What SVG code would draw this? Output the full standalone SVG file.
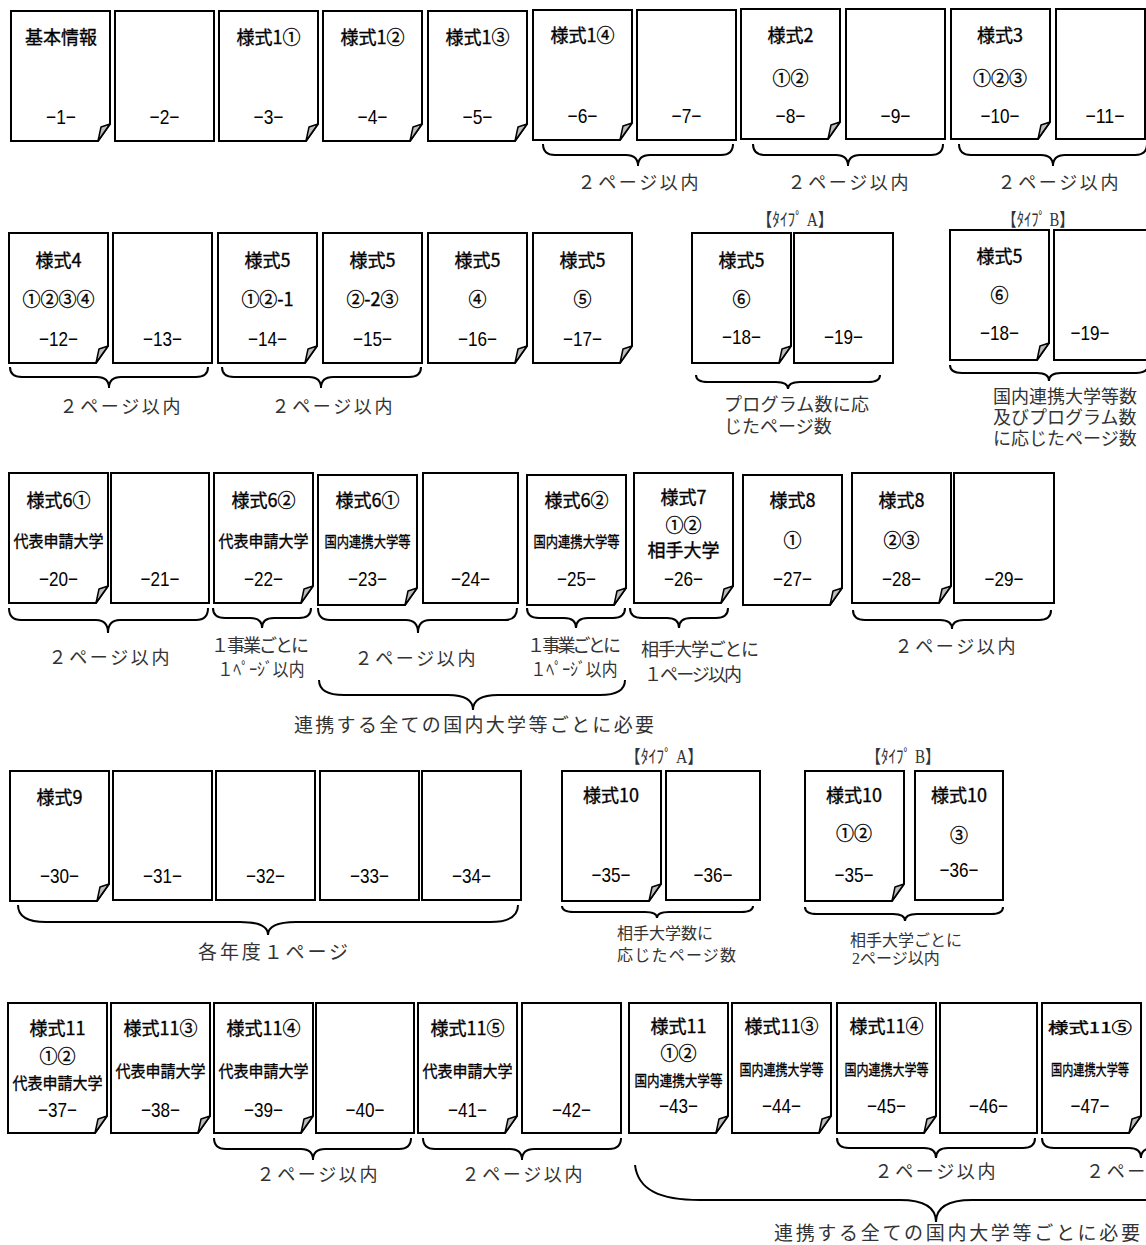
<svg xmlns="http://www.w3.org/2000/svg" width="1146" height="1245" viewBox="0 0 1146 1245">
<style>
.pg{fill:#fff;stroke:#000;stroke-width:2}
.fd{fill:#bdbdbd;stroke:#000;stroke-width:1.5;stroke-linejoin:round}
.lb{font-family:"Noto Sans CJK JP",sans-serif;font-size:18px;text-anchor:middle;fill:#000;stroke:#000;stroke-width:0.35px}
.sm{font-size:16px}
.xs{font-size:15px}
.nm{font-family:"Liberation Sans",Arial,sans-serif;font-size:21px;text-anchor:middle;fill:#000}
.br{fill:none;stroke:#000;stroke-width:2}
.an{font-family:"Liberation Serif","Noto Sans CJK JP",serif;font-size:18px;fill:#333}
.an.sm{font-size:16px}
.an.xs{font-size:15px}
.an.lg{font-size:19px}
.mid{text-anchor:middle}
</style>
<defs>
<g id="pf"><path class="pg" d="M0,0H99V113L87,130H0Z"/><path class="fd" d="M99,113L90,116L87,130Z"/></g>
</defs>
<rect width="1146" height="1245" fill="#fff"/>

<!-- Row 1 -->
<g id="p1"><use href="#pf" x="11" y="11"/><text class="lb" x="61" y="44">基本情報</text><text class="nm" x="61" y="124" textLength="30" lengthAdjust="spacingAndGlyphs">−1−</text></g>
<g id="p2"><rect class="pg" x="115" y="11" width="99" height="130"/><text class="nm" x="164.5" y="124" textLength="30" lengthAdjust="spacingAndGlyphs">−2−</text></g>
<g id="p3"><use href="#pf" x="219" y="11"/><text class="lb" x="268.5" y="44">様式1①</text><text class="nm" x="268.5" y="124" textLength="30" lengthAdjust="spacingAndGlyphs">−3−</text></g>
<g id="p4"><use href="#pf" x="323" y="11"/><text class="lb" x="372.5" y="44">様式1②</text><text class="nm" x="372.5" y="124" textLength="30" lengthAdjust="spacingAndGlyphs">−4−</text></g>
<g id="p5"><use href="#pf" x="428" y="11"/><text class="lb" x="477.5" y="44">様式1③</text><text class="nm" x="477.5" y="124" textLength="30" lengthAdjust="spacingAndGlyphs">−5−</text></g>
<g id="p6"><use href="#pf" x="533" y="10"/><text class="lb" x="582.5" y="42">様式1④</text><text class="nm" x="582.5" y="123" textLength="30" lengthAdjust="spacingAndGlyphs">−6−</text></g>
<g id="p7"><rect class="pg" x="637" y="10" width="99" height="130"/><text class="nm" x="686.5" y="123" textLength="30" lengthAdjust="spacingAndGlyphs">−7−</text></g>
<g id="p8"><use href="#pf" x="741" y="9"/><text class="lb" x="790.5" y="42">様式2</text><text class="lb" x="790.5" y="85">①②</text><text class="nm" x="790.5" y="123" textLength="30" lengthAdjust="spacingAndGlyphs">−8−</text></g>
<g id="p9"><rect class="pg" x="846" y="9" width="99" height="130"/><text class="nm" x="895.5" y="123" textLength="30" lengthAdjust="spacingAndGlyphs">−9−</text></g>
<g id="p10"><use href="#pf" x="951" y="9"/><text class="lb" x="1000" y="42">様式3</text><text class="lb" x="1000" y="85">①②③</text><text class="nm" x="1000" y="123" textLength="39" lengthAdjust="spacingAndGlyphs">−10−</text></g>
<g id="p11"><rect class="pg" x="1056" y="9" width="89" height="130"/><text class="nm" x="1105" y="123" textLength="39" lengthAdjust="spacingAndGlyphs">−11−</text></g>

<!-- Row 2 -->
<g id="p12"><use href="#pf" x="9" y="233"/><text class="lb" x="58.5" y="267">様式4</text><text class="lb" x="58.5" y="306">①②③④</text><text class="nm" x="58.5" y="346" textLength="39" lengthAdjust="spacingAndGlyphs">−12−</text></g>
<g id="p13"><rect class="pg" x="113" y="233" width="99" height="130"/><text class="nm" x="162.5" y="346" textLength="39" lengthAdjust="spacingAndGlyphs">−13−</text></g>
<g id="p14"><use href="#pf" x="218" y="233"/><text class="lb" x="267.5" y="267">様式5</text><text class="lb" x="267.5" y="306">①②-1</text><text class="nm" x="267.5" y="346" textLength="39" lengthAdjust="spacingAndGlyphs">−14−</text></g>
<g id="p15"><rect class="pg" x="323" y="233" width="99" height="130"/><text class="lb" x="372.5" y="267">様式5</text><text class="lb" x="372.5" y="306">②-2③</text><text class="nm" x="372.5" y="346" textLength="39" lengthAdjust="spacingAndGlyphs">−15−</text></g>
<g id="p16"><use href="#pf" x="428" y="233"/><text class="lb" x="477.5" y="267">様式5</text><text class="lb" x="477.5" y="306">④</text><text class="nm" x="477.5" y="346" textLength="39" lengthAdjust="spacingAndGlyphs">−16−</text></g>
<g id="p17"><use href="#pf" x="533" y="233"/><text class="lb" x="582.5" y="267">様式5</text><text class="lb" x="582.5" y="306">⑤</text><text class="nm" x="582.5" y="346" textLength="39" lengthAdjust="spacingAndGlyphs">−17−</text></g>
<g id="p18a"><use href="#pf" x="692" y="233"/><text class="lb" x="741.5" y="267">様式5</text><text class="lb" x="741.5" y="306">⑥</text><text class="nm" x="741.5" y="344" textLength="39" lengthAdjust="spacingAndGlyphs">−18−</text></g>
<g id="p19a"><rect class="pg" x="794" y="233" width="99" height="130"/><text class="nm" x="843.5" y="344" textLength="39" lengthAdjust="spacingAndGlyphs">−19−</text></g>
<g id="p18b"><use href="#pf" x="950" y="230"/><text class="lb" x="999.5" y="263">様式5</text><text class="lb" x="999.5" y="302">⑥</text><text class="nm" x="999.5" y="340" textLength="39" lengthAdjust="spacingAndGlyphs">−18−</text></g>
<g id="p19b"><rect class="pg" x="1054" y="230" width="99" height="130"/><text class="nm" x="1090" y="340" textLength="39" lengthAdjust="spacingAndGlyphs">−19−</text></g>

<!-- Row 3 -->
<g id="p20"><use href="#pf" x="9" y="473"/><text class="lb" x="58.5" y="507">様式6①</text><text class="lb sm" x="58.5" y="547" textLength="90" lengthAdjust="spacingAndGlyphs">代表申請大学</text><text class="nm" x="58.5" y="586" textLength="39" lengthAdjust="spacingAndGlyphs">−20−</text></g>
<g id="p21"><rect class="pg" x="111" y="473" width="98" height="130"/><text class="nm" x="160" y="586" textLength="39" lengthAdjust="spacingAndGlyphs">−21−</text></g>
<g id="p22"><use href="#pf" x="214" y="473"/><text class="lb" x="263.5" y="507">様式6②</text><text class="lb sm" x="263.5" y="547" textLength="90" lengthAdjust="spacingAndGlyphs">代表申請大学</text><text class="nm" x="263.5" y="586" textLength="39" lengthAdjust="spacingAndGlyphs">−22−</text></g>
<g id="p23"><use href="#pf" x="318" y="475"/><text class="lb" x="367.5" y="507">様式6①</text><text class="lb xs" x="367.5" y="547" textLength="86" lengthAdjust="spacingAndGlyphs">国内連携大学等</text><text class="nm" x="367.5" y="586" textLength="39" lengthAdjust="spacingAndGlyphs">−23−</text></g>
<g id="p24"><rect class="pg" x="423" y="473" width="95" height="130"/><text class="nm" x="470.5" y="586" textLength="39" lengthAdjust="spacingAndGlyphs">−24−</text></g>
<g id="p25"><use href="#pf" x="527" y="475"/><text class="lb" x="576.5" y="507">様式6②</text><text class="lb xs" x="576.5" y="547" textLength="86" lengthAdjust="spacingAndGlyphs">国内連携大学等</text><text class="nm" x="576.5" y="586" textLength="39" lengthAdjust="spacingAndGlyphs">−25−</text></g>
<g id="p26"><use href="#pf" x="634" y="473"/><text class="lb" x="683.5" y="504">様式7</text><text class="lb" x="683.5" y="532">①②</text><text class="lb" x="683.5" y="557">相手大学</text><text class="nm" x="683.5" y="586" textLength="39" lengthAdjust="spacingAndGlyphs">−26−</text></g>
<g id="p27"><use href="#pf" x="743" y="475"/><text class="lb" x="792.5" y="507">様式8</text><text class="lb" x="792.5" y="547">①</text><text class="nm" x="792.5" y="586" textLength="39" lengthAdjust="spacingAndGlyphs">−27−</text></g>
<g id="p28"><use href="#pf" x="852" y="473"/><text class="lb" x="901.5" y="507">様式8</text><text class="lb" x="901.5" y="547">②③</text><text class="nm" x="901.5" y="586" textLength="39" lengthAdjust="spacingAndGlyphs">−28−</text></g>
<g id="p29"><rect class="pg" x="954" y="473" width="100" height="130"/><text class="nm" x="1004" y="586" textLength="39" lengthAdjust="spacingAndGlyphs">−29−</text></g>

<!-- Row 4 -->
<g id="p30"><use href="#pf" x="10" y="771"/><text class="lb" x="59.5" y="804">様式9</text><text class="nm" x="59.5" y="883" textLength="39" lengthAdjust="spacingAndGlyphs">−30−</text></g>
<g id="p31"><rect class="pg" x="113" y="771" width="99" height="129"/><text class="nm" x="162.5" y="883" textLength="39" lengthAdjust="spacingAndGlyphs">−31−</text></g>
<g id="p32"><rect class="pg" x="216" y="771" width="99" height="129"/><text class="nm" x="265.5" y="883" textLength="39" lengthAdjust="spacingAndGlyphs">−32−</text></g>
<g id="p33"><rect class="pg" x="320" y="771" width="99" height="129"/><text class="nm" x="369.5" y="883" textLength="39" lengthAdjust="spacingAndGlyphs">−33−</text></g>
<g id="p34"><rect class="pg" x="422" y="771" width="99" height="129"/><text class="nm" x="471.5" y="883" textLength="39" lengthAdjust="spacingAndGlyphs">−34−</text></g>
<g id="p35a"><use href="#pf" x="562" y="771"/><text class="lb" x="611" y="802">様式10</text><text class="nm" x="611" y="882" textLength="39" lengthAdjust="spacingAndGlyphs">−35−</text></g>
<g id="p36a"><rect class="pg" x="666" y="771" width="94" height="129"/><text class="nm" x="713" y="882" textLength="39" lengthAdjust="spacingAndGlyphs">−36−</text></g>
<g id="p35b"><use href="#pf" x="805" y="771"/><text class="lb" x="854" y="802">様式10</text><text class="lb" x="854" y="840">①②</text><text class="nm" x="854" y="882" textLength="39" lengthAdjust="spacingAndGlyphs">−35−</text></g>
<g id="p36b"><rect class="pg" x="915" y="771" width="88" height="129"/><text class="lb" x="959" y="802">様式10</text><text class="lb" x="959" y="842">③</text><text class="nm" x="959" y="877" textLength="39" lengthAdjust="spacingAndGlyphs">−36−</text></g>

<!-- Row 5 -->
<g id="p37"><use href="#pf" x="8" y="1003"/><text class="lb" x="57.5" y="1035">様式11</text><text class="lb" x="57.5" y="1063">①②</text><text class="lb sm" x="57.5" y="1089" textLength="90" lengthAdjust="spacingAndGlyphs">代表申請大学</text><text class="nm" x="57.5" y="1117" textLength="39" lengthAdjust="spacingAndGlyphs">−37−</text></g>
<g id="p38"><use href="#pf" x="111" y="1003"/><text class="lb" x="160.5" y="1035">様式11③</text><text class="lb sm" x="160.5" y="1077" textLength="90" lengthAdjust="spacingAndGlyphs">代表申請大学</text><text class="nm" x="160.5" y="1117" textLength="39" lengthAdjust="spacingAndGlyphs">−38−</text></g>
<g id="p39"><use href="#pf" x="214" y="1003"/><text class="lb" x="263.5" y="1035">様式11④</text><text class="lb sm" x="263.5" y="1077" textLength="90" lengthAdjust="spacingAndGlyphs">代表申請大学</text><text class="nm" x="263.5" y="1117" textLength="39" lengthAdjust="spacingAndGlyphs">−39−</text></g>
<g id="p40"><rect class="pg" x="316" y="1003" width="98" height="130"/><text class="nm" x="365" y="1117" textLength="39" lengthAdjust="spacingAndGlyphs">−40−</text></g>
<g id="p41"><use href="#pf" x="418" y="1003"/><text class="lb" x="467.5" y="1035">様式11⑤</text><text class="lb sm" x="467.5" y="1077" textLength="90" lengthAdjust="spacingAndGlyphs">代表申請大学</text><text class="nm" x="467.5" y="1117" textLength="39" lengthAdjust="spacingAndGlyphs">−41−</text></g>
<g id="p42"><rect class="pg" x="522" y="1003" width="99" height="130"/><text class="nm" x="571.5" y="1117" textLength="39" lengthAdjust="spacingAndGlyphs">−42−</text></g>
<g id="p43"><use href="#pf" x="629" y="1003"/><text class="lb" x="678.5" y="1033">様式11</text><text class="lb" x="678.5" y="1060">①②</text><text class="lb xs" x="678.5" y="1086" textLength="88" lengthAdjust="spacingAndGlyphs">国内連携大学等</text><text class="nm" x="678.5" y="1113" textLength="39" lengthAdjust="spacingAndGlyphs">−43−</text></g>
<g id="p44"><use href="#pf" x="732" y="1003"/><text class="lb" x="781.5" y="1033">様式11③</text><text class="lb xs" x="781.5" y="1075" textLength="84" lengthAdjust="spacingAndGlyphs">国内連携大学等</text><text class="nm" x="781.5" y="1113" textLength="39" lengthAdjust="spacingAndGlyphs">−44−</text></g>
<g id="p45"><use href="#pf" x="837" y="1003"/><text class="lb" x="886.5" y="1033">様式11④</text><text class="lb xs" x="886.5" y="1075" textLength="84" lengthAdjust="spacingAndGlyphs">国内連携大学等</text><text class="nm" x="886.5" y="1113" textLength="39" lengthAdjust="spacingAndGlyphs">−45−</text></g>
<g id="p46"><rect class="pg" x="940" y="1003" width="97" height="130"/><text class="nm" x="988.5" y="1113" textLength="39" lengthAdjust="spacingAndGlyphs">−46−</text></g>
<g id="p47"><use href="#pf" x="1042" y="1003"/><text class="lb xs" x="1090" y="1033" textLength="84" lengthAdjust="spacingAndGlyphs">様式11⑤</text><text class="lb xs" x="1090" y="1075" textLength="78" lengthAdjust="spacingAndGlyphs">国内連携大学等</text><text class="nm" x="1090" y="1113" textLength="39" lengthAdjust="spacingAndGlyphs">−47−</text></g>

<g id="connectors">
<path class="br" d="M543,144Q543,155 555,155H626Q638,155 638,166Q638,155 650,155H721Q733,155 733,144"/>
<path class="br" d="M753,144Q753,155 765,155H836Q848,155 848,166Q848,155 860,155H931Q943,155 943,144"/>
<path class="br" d="M959,144Q959,155 971,155H1041Q1053,155 1053,166Q1053,155 1065,155H1135Q1147,155 1147,144"/>
<path class="br" d="M10,367Q10,377 22,377H97Q109,377 109,388Q109,377 121,377H196Q208,377 208,367"/>
<path class="br" d="M222,367Q222,377 234,377H309Q321,377 321,388Q321,377 333,377H409Q421,377 421,367"/>
<path class="br" d="M696,375Q696,382 708,382H776Q788,382 788,389Q788,382 800,382H868Q880,382 880,375"/>
<path class="br" d="M950,365Q950,373 962,373H1037Q1049,373 1049,381Q1049,373 1061,373H1136Q1148,373 1148,365"/>
<path class="br" d="M9,608Q9,620 21,620H96Q108,620 108,633Q108,620 120,620H196Q208,620 208,608"/>
<path class="br" d="M213,608Q213,618 225,618H250Q262,618 262,628Q262,618 274,618H299Q311,618 311,608"/>
<path class="br" d="M318,608Q318,620 330,620H406Q418,620 418,633Q418,620 430,620H505Q517,620 517,608"/>
<path class="br" d="M527,608Q527,618 539,618H564Q576,618 576,628Q576,618 588,618H613Q625,618 625,608"/>
<path class="br" d="M630,608Q630,618 642,618H667Q679,618 679,628Q679,618 691,618H716Q728,618 728,608"/>
<path class="br" d="M853,610Q853,620 865,620H940Q952,620 952,629Q952,620 964,620H1039Q1051,620 1051,610"/>
<path class="br" d="M319,680Q319,695 344,695H448Q473,695 473,710Q473,695 498,695H600Q625,695 625,680"/>
<path class="br" d="M18,905Q18,922 46,922H240Q268,922 268,935Q268,922 296,922H490Q518,922 518,905"/>
<path class="br" d="M562,906Q562,912 574,912H645Q657,912 657,918Q657,912 669,912H741Q753,912 753,906"/>
<path class="br" d="M805,907Q805,914 817,914H893Q905,914 905,921Q905,914 917,914H991Q1003,914 1003,907"/>
<path class="br" d="M214,1138Q214,1149 226,1149H301Q313,1149 313,1160Q313,1149 325,1149H399Q411,1149 411,1138"/>
<path class="br" d="M423,1138Q423,1149 435,1149H510Q522,1149 522,1160Q522,1149 534,1149H609Q621,1149 621,1138"/>
<path class="br" d="M837,1138Q837,1148 849,1148H924Q936,1148 936,1158Q936,1148 948,1148H1023Q1035,1148 1035,1138"/>
<path class="br" d="M1042,1138Q1042,1148 1054,1148H1129Q1141,1148 1141,1158Q1141,1148 1153,1148H1228Q1240,1148 1240,1138"/>
<path class="br" d="M635,1165C638,1190 660,1200 700,1200H900Q936,1200 936,1222Q936,1200 972,1200H1172C1212,1200 1234,1190 1237,1165"/>
</g>

<g id="annotations">
<text class="an mid" x="638" y="189" textLength="121">２ページ以内</text>
<text class="an mid" x="848" y="189" textLength="121">２ページ以内</text>
<text class="an mid" x="1058" y="189" textLength="121">２ページ以内</text>
<text class="an mid" x="120" y="413" textLength="121">２ページ以内</text>
<text class="an mid" x="332" y="413" textLength="121">２ページ以内</text>
<text class="an mid" x="795" y="226" textLength="76" lengthAdjust="spacingAndGlyphs">【ﾀｲﾌﾟ A】</text>
<text class="an mid" x="1038" y="226" textLength="72" lengthAdjust="spacingAndGlyphs">【ﾀｲﾌﾟ B】</text>
<text class="an" x="724" y="411" textLength="145">プログラム数に応</text>
<text class="an" x="724" y="433">じたページ数</text>
<text class="an" x="993" y="403">国内連携大学等数</text>
<text class="an" x="993" y="424">及びプログラム数</text>
<text class="an" x="993" y="445">に応じたページ数</text>
<text class="an mid" x="109" y="664" textLength="121">２ページ以内</text>
<text class="an mid" x="260" y="652" textLength="98">１事業ごとに</text>
<text class="an mid" x="261" y="676" textLength="87" lengthAdjust="spacingAndGlyphs">１ﾍﾟｰｼﾞ以内</text>
<text class="an mid" x="415" y="665" textLength="121">２ページ以内</text>
<text class="an mid" x="574" y="652" textLength="94">１事業ごとに</text>
<text class="an mid" x="574" y="676" textLength="87" lengthAdjust="spacingAndGlyphs">１ﾍﾟｰｼﾞ以内</text>
<text class="an" x="641" y="656" textLength="118">相手大学ごとに</text>
<text class="an" x="644" y="681" textLength="98">１ページ以内</text>
<text class="an mid" x="955" y="653" textLength="121">２ページ以内</text>
<text class="an lg" x="294" y="732" textLength="360">連携する全ての国内大学等ごとに必要</text>
<text class="an lg mid" x="273" y="959" textLength="150">各年度１ページ</text>
<text class="an mid" x="664" y="763" textLength="78" lengthAdjust="spacingAndGlyphs">【ﾀｲﾌﾟ A】</text>
<text class="an mid" x="903" y="763" textLength="74" lengthAdjust="spacingAndGlyphs">【ﾀｲﾌﾟ B】</text>
<text class="an sm" x="617" y="939">相手大学数に</text>
<text class="an sm" x="617" y="961" textLength="119">応じたページ数</text>
<text class="an sm" x="850" y="946">相手大学ごとに</text>
<text class="an sm" x="852" y="964">2ページ以内</text>
<text class="an mid" x="317" y="1181" textLength="121">２ページ以内</text>
<text class="an mid" x="522" y="1181" textLength="121">２ページ以内</text>
<text class="an mid" x="935" y="1178" textLength="121">２ページ以内</text>
<text class="an" x="1086" y="1178" textLength="121">２ページ以内</text>
<text class="an lg" x="774" y="1240" textLength="366">連携する全ての国内大学等ごとに必要</text>
</g>
</svg>
